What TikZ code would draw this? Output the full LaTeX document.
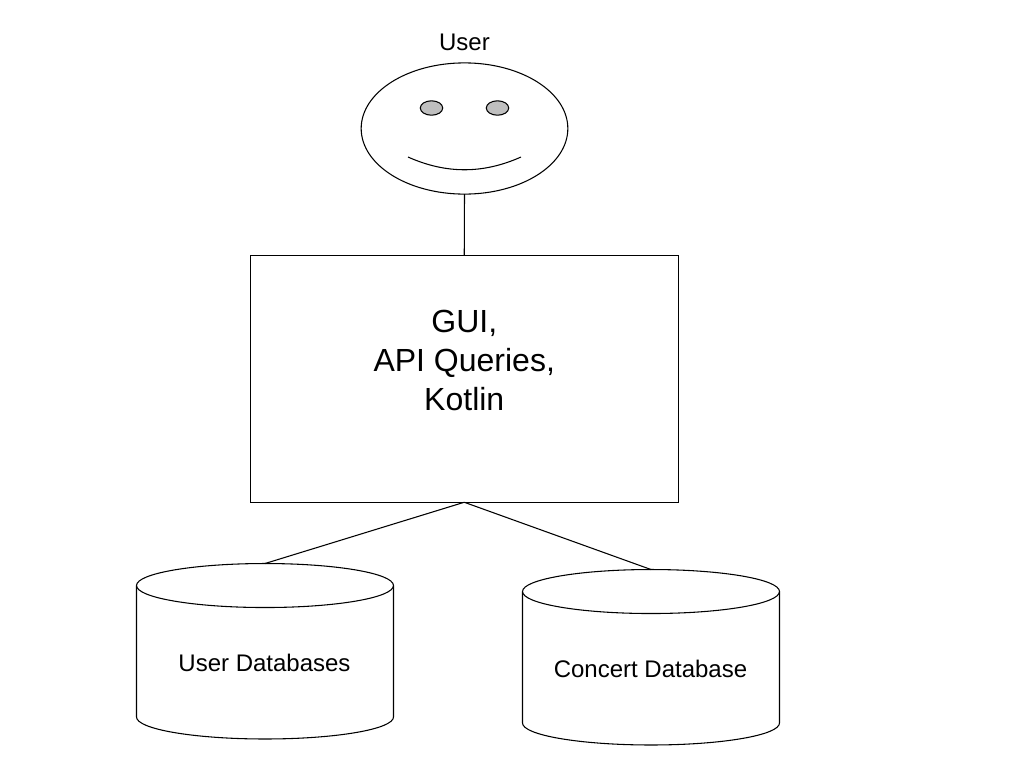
\documentclass[tikz,border=0pt]{standalone}
\usepackage{fontspec}
\setmainfont{Liberation Sans}
\usetikzlibrary{shapes.geometric}
\newcommand{\drawdb}[1]{%
  \draw[line] ([yshift=-16.5pt]#1.north) ellipse [x radius=128.5, y radius=22];
  \draw[line] ([yshift=-16.5pt]#1.north west) -- ([yshift=16.5pt]#1.south west)
     arc [start angle=180, end angle=360, x radius=128.5, y radius=-22]
     -- ([yshift=-16.5pt]#1.north east);
}
\begin{document}
\begin{tikzpicture}[x=0.75pt,y=-0.75pt,
  every node/.style={line width=0.8pt,inner sep=0pt,outer sep=0pt},
  line/.style={draw=black,line width=0.8pt},
  facebox/.style={ellipse,draw=black,minimum width=155pt,minimum height=98.4pt},
  eyeshape/.style={ellipse,draw=black,fill=black!25,minimum width=16.8pt,minimum height=10.8pt},
  mainbox/.style={rectangle,draw=black,minimum width=321pt,minimum height=185.25pt},
  dbshape/.style={rectangle,minimum width=192.75pt,minimum height=131.6pt},
  bigtext/.style={align=center,font=\fontsize{24}{28.9}\selectfont},
  smalltext/.style={font=\fontsize{18}{22}\selectfont}]
\useasboundingbox (0,0) rectangle (1024,768);
\fill[white] (0,0) rectangle (1024,768);
\node[smalltext] (userlabel) at (464.5,42.5) {User};
\node[facebox] (face) at (464.5,128.5) {};
\node[eyeshape] (eyeL) at (431.5,108) {};
\node[eyeshape] (eyeR) at (497.5,108) {};
\coordinate (smileL) at (408,157);
\coordinate (smileR) at (521,157);
\draw[line] (smileL) .. controls (446,174) and (483,174) .. (smileR);
\node[mainbox] (gui) at (464.25,378.75) {};
\node[bigtext] (guitext) at (464.25,360.5) {GUI,\\API Queries,\\Kotlin};
\node[dbshape] (udb) at (265,651.25) {};
\node[dbshape] (cdb) at (651,657.25) {};
\drawdb{udb}
\drawdb{cdb}
\node[smalltext] (udbl) at (264.5,662.75) {User Databases};
\node[smalltext] (cdbl) at (650.5,668.5) {Concert Database};
\draw[line] (face.south) -- (gui.north);
\draw[line] (gui.south) -- (udb.north);
\draw[line] (gui.south) -- (cdb.north);
\end{tikzpicture}
\end{document}
